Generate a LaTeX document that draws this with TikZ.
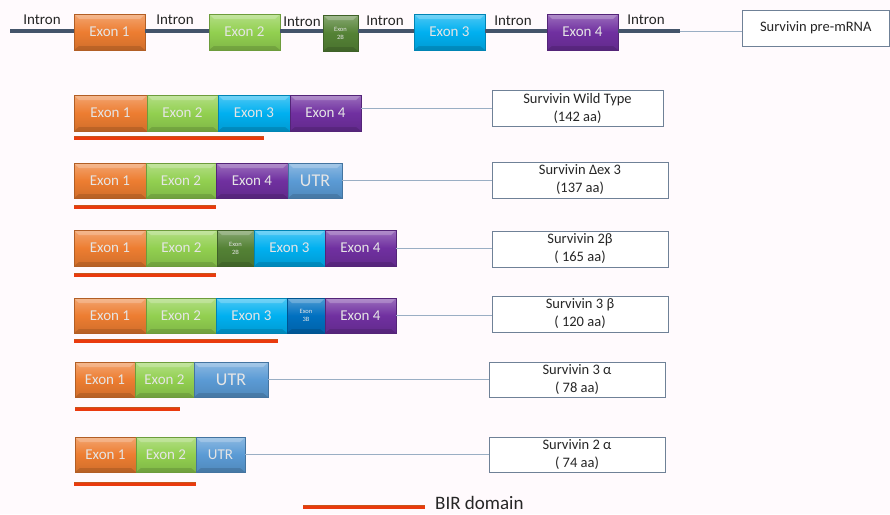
\documentclass[tikz,border=0pt]{standalone}
\usepackage{fontspec}
\setmainfont{Carlito}
\definecolor{cOr}{HTML}{ED7D31}
\definecolor{cGr}{HTML}{92D050}
\definecolor{cCy}{HTML}{00B0F0}
\definecolor{cPu}{HTML}{7030A0}
\definecolor{cDG}{HTML}{548235}
\definecolor{cBl}{HTML}{0070C0}
\definecolor{cUT}{HTML}{5B9BD5}
\definecolor{cIntron}{HTML}{44546A}
\definecolor{cConn}{HTML}{9AAEC4}
\definecolor{cBox}{HTML}{6F8197}
\definecolor{cRed}{HTML}{EA3A0E}
\definecolor{cRedB}{HTML}{C8551A}
\definecolor{cTxt}{HTML}{262626}
\newcommand\utrfont{\fontsize{18}{18}\selectfont}
\newcommand\tinyex{\fontsize{6.5}{8}\selectfont}
\newcommand\ex[7]{\node[exon=#2, minimum width={(#4-#3)*1pt}, minimum height={(#6-#5)*1pt}] (#1) at ({(#3+#4)/2},{(#5+#6)/2}) {#7};}
\newcommand\exs[7]{\node[exon=#2, font=\tinyex, minimum width={(#4-#3)*1pt}, minimum height={(#6-#5)*1pt}] (#1) at ({(#3+#4)/2},{(#5+#6)/2}) {#7};}
\newcommand\lb[6]{\node[lblbox, minimum width={(#3-#2)*1pt}, minimum height={(#5-#4)*1pt}] (#1) at ({(#2+#3)/2},{(#4+#5)/2}) {#6};}
\newcommand\bir[4]{\coordinate (#1a) at (#2,#4); \coordinate (#1b) at (#3,#4); \draw[birline] (#1a) -- (#1b); \draw[birin] (#1a) -- (#1b);}
\begin{document}
\begin{tikzpicture}[x=1pt,y=-1pt,
  exon/.style={draw=#1!75!black, line width=0.5pt, top color=#1!70!white, bottom color=#1!88!black, middle color=#1,
    text=white!90!black, inner sep=0pt, outer sep=0pt, align=center, font=\fontsize{15}{15}\selectfont,
    path picture={
      \fill[white, opacity=0.22] (path picture bounding box.north west) -- (path picture bounding box.north east)
        -- ([xshift=-5pt,yshift=-5pt]path picture bounding box.north east) -- ([xshift=5pt,yshift=-5pt]path picture bounding box.north west) -- cycle;
      \fill[black, opacity=0.12] (path picture bounding box.south west) -- (path picture bounding box.south east)
        -- ([xshift=-5pt,yshift=4pt]path picture bounding box.south east) -- ([xshift=5pt,yshift=4pt]path picture bounding box.south west) -- cycle;
    }},
  lblbox/.style={draw=cBox, line width=0.9pt, fill=white, inner sep=0pt, outer sep=0pt, align=center,
    text=cTxt, font=\fontsize{14.5}{18}\selectfont},
  intron/.style={draw=cIntron, line width=3.5pt},
  ilabel/.style={text=cTxt, font=\fontsize{15}{15}\selectfont, inner sep=0pt},
  conn/.style={draw=cConn, line width=0.8pt},
  birline/.style={draw=cRedB, line width=4.5pt},
  birin/.style={draw=cRed, line width=3pt}]
\useasboundingbox (0,0) rectangle (890,514);
\fill[white!98!magenta] (0,0) rectangle (890,514);
% top row: pre-mRNA
\coordinate (L0) at (10,31);
\coordinate (L1) at (680,31);
\ex{t1}{cOr}{74}{145}{14}{50}{Exon 1}
\ex{t2}{cGr}{209}{280}{14}{50}{Exon 2}
\exs{t2b}{cDG}{323}{358}{15}{51}{Exon\\2B}
\ex{t3}{cCy}{414}{485}{14}{50}{Exon 3}
\ex{t4}{cPu}{547}{618}{14}{50}{Exon 4}
\draw[intron] (L0) -- (t1.west |- L0);
\draw[intron] (t1.east |- L0) -- (t2.west |- L0);
\draw[intron] (t2.east |- L0) -- (t2b.west |- L0);
\draw[intron] (t2b.east |- L0) -- (t3.west |- L0);
\draw[intron] (t3.east |- L0) -- (t4.west |- L0);
\draw[intron] (t4.east |- L0) -- (L1);
\lb{pre}{742}{889.5}{10}{46}{Survivin pre-mRNA}
\draw[conn] (L1) -- (pre.west |- L1);
\node[ilabel] (i1) at (42,20) {Intron};
\node[ilabel] (i2) at (175,20) {Intron};
\node[ilabel] (i3) at (302,22) {Intron};
\node[ilabel] (i4) at (385,21) {Intron};
\node[ilabel] (i5) at (513,21) {Intron};
\node[ilabel] (i6) at (646,20) {Intron};
% row 1 wild type
\ex{a1}{cOr}{74}{147}{95}{131}{Exon 1}
\ex{a2}{cGr}{147}{218}{95}{131}{Exon 2}
\ex{a3}{cCy}{218}{290}{95}{131}{Exon 3}
\ex{a4}{cPu}{290}{361}{95}{131}{Exon 4}
\bir{r1}{74}{264}{138}
\lb{b1}{492}{663}{90}{126}{Survivin Wild Type\\(142 aa)}
\draw[conn] (a4.east |- b1.west) -- (b1.west);
% row 2 delta ex3
\ex{c1}{cOr}{74}{146}{163}{198}{Exon 1}
\ex{c2}{cGr}{146}{216}{163}{198}{Exon 2}
\ex{c3}{cPu}{216}{288}{163}{198}{Exon 4}
\ex{c4}{cUT}{288}{342}{163}{198}{\utrfont UTR}
\bir{r2}{74}{216}{207}
\lb{b2}{492}{668}{162}{198}{Survivin Δex 3\\(137 aa)}
\draw[conn] (c4.east) -- (c4.east -| b2.west);
% row 3 2beta
\ex{d1}{cOr}{74}{146}{230}{266}{Exon 1}
\ex{d2}{cGr}{146}{217}{230}{266}{Exon 2}
\exs{d3}{cDG}{217}{254}{230}{266}{Exon\\2B}
\ex{d4}{cCy}{254}{325}{230}{266}{Exon 3}
\ex{d5}{cPu}{325}{396}{230}{266}{Exon 4}
\bir{r3}{74}{216}{275}
\lb{b3}{492}{668}{231}{267}{Survivin 2β\\( 165 aa)}
\draw[conn] (d5.east) -- (d5.east -| b3.west);
% row 4 3beta
\ex{f1}{cOr}{74}{146}{298}{333}{Exon 1}
\ex{f2}{cGr}{146}{216}{298}{333}{Exon 2}
\ex{f3}{cCy}{216}{287}{298}{333}{Exon 3}
\exs{f4}{cBl}{287}{325}{298}{333}{Exon\\3B}
\ex{f5}{cPu}{325}{396}{298}{333}{Exon 4}
\bir{r4}{74}{278}{341}
\lb{b4}{492}{668}{296}{332}{Survivin 3 β\\( 120 aa)}
\draw[conn] (f5.east) -- (f5.east -| b4.west);
% row 5 3alpha
\ex{g1}{cOr}{75}{135}{362}{397}{Exon 1}
\ex{g2}{cGr}{135}{194}{362}{397}{Exon 2}
\ex{g3}{cUT}{194}{268}{362}{397}{\utrfont UTR}
\bir{r5}{75}{180}{409}
\lb{b5}{489}{665}{362}{397}{Survivin 3 α\\( 78 aa)}
\draw[conn] (g3.east) -- (g3.east -| b5.west);
% row 6 2alpha
\ex{h1}{cOr}{75}{136}{437}{472}{Exon 1}
\ex{h2}{cGr}{136}{196}{437}{472}{Exon 2}
\ex{h3}{cUT}{196}{245}{437}{472}{UTR}
\bir{r6}{74}{196}{484}
\lb{b6}{489}{665}{437}{472}{Survivin 2 α\\( 74 aa)}
\draw[conn] (h3.east) -- (h3.east -| b6.west);
% legend
\bir{lg}{303}{425}{507}
\node[anchor=west, text=cTxt, font=\fontsize{19}{19}\selectfont, inner sep=0pt] (birtxt) at (435,503) {BIR domain};
\end{tikzpicture}
\end{document}
